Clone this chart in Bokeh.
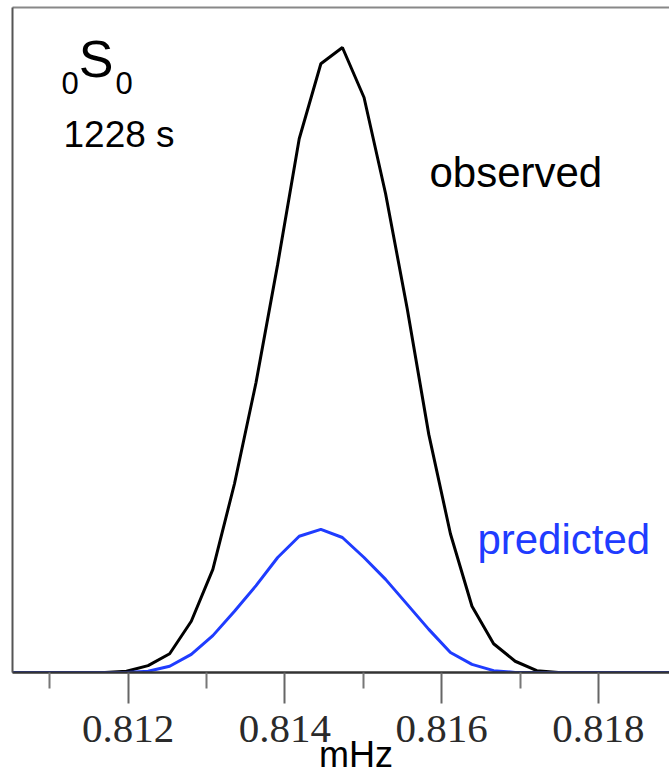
from bokeh.plotting import figure
from bokeh.models import Range1d, LinearAxis, FixedTicker, Label
from bokeh.embed import file_html
from bokeh.resources import INLINE

# Spectrum of the 0S0 radial mode (period 1228 s), frequency in mHz
freq = [0.8105, 0.811703, 0.811978, 0.812254, 0.812529, 0.812805, 0.813080,
        0.813356, 0.813631, 0.813907, 0.814182, 0.814458, 0.814733, 0.815009,
        0.815284, 0.815560, 0.815835, 0.816111, 0.816386, 0.816662, 0.816937,
        0.817213, 0.817488, 0.817764, 0.8190]

observed = [0.0, 0.0, 0.002, 0.011, 0.030, 0.082, 0.165, 0.302, 0.464, 0.653,
            0.854, 0.974, 1.000, 0.920, 0.766, 0.582, 0.381, 0.222, 0.106,
            0.046, 0.018, 0.003, 0.0, 0.0, 0.0]

predicted = [0.0, 0.0, 0.0, 0.002, 0.010, 0.029, 0.059, 0.098, 0.139, 0.184,
             0.218, 0.229, 0.216, 0.184, 0.149, 0.109, 0.069, 0.032, 0.013,
             0.003, 0.0, 0.0, 0.0, 0.0, 0.0]

major_ticks = [0.812, 0.814, 0.816, 0.818]
minor_ticks = [0.811, 0.813, 0.815, 0.817]
tick_labels = ["0.812", "0.814", "0.816", "0.818"]

BLUE = "#1f3cff"
FONT = "Liberation Sans"

p = figure(width=669, height=778, output_backend="svg", toolbar_location=None,
           x_range=Range1d(0.810524, 0.818906), y_range=Range1d(0, 1.064),
           x_axis_location=None, y_axis_location=None,
           min_border_left=12, min_border_right=0, min_border_top=7,
           min_border_bottom=106)
p.outline_line_color = None
p.grid.visible = False
p.background_fill_color = "white"
p.border_fill_color = "white"

# frequency axis
xaxis = LinearAxis(ticker=FixedTicker(ticks=major_ticks, minor_ticks=minor_ticks))
xaxis.major_label_overrides = dict(zip(major_ticks, tick_labels))
xaxis.major_tick_in = 0
xaxis.major_tick_out = 31
xaxis.minor_tick_in = 0
xaxis.minor_tick_out = 16
xaxis.major_tick_line_color = "#666666"
xaxis.major_tick_line_width = 2
xaxis.minor_tick_line_color = "#777777"
xaxis.minor_tick_line_width = 2
xaxis.axis_line_color = "#333333"
xaxis.axis_line_width = 2.5
xaxis.major_label_standoff = 12
xaxis.major_label_text_font = "Liberation Serif"
xaxis.major_label_text_font_size = "41px"
xaxis.major_label_text_color = "#2a2a2a"
# unit label sits slightly right of the frame centre
xaxis.axis_label = "\u00a0\u00a0\u00a0mHz"
xaxis.axis_label_text_font = FONT
xaxis.axis_label_text_font_style = "normal"
xaxis.axis_label_text_font_size = "36px"
xaxis.axis_label_text_color = "black"
xaxis.axis_label_standoff = -11
p.add_layout(xaxis, "below")

# plain frame edges on the left and top
for side, color in (("left", "#555555"), ("above", "#888888")):
    ax = LinearAxis(ticker=FixedTicker(ticks=[], minor_ticks=[]))
    ax.major_tick_in = 0
    ax.major_tick_out = 0
    ax.minor_tick_in = 0
    ax.minor_tick_out = 0
    ax.major_label_standoff = 0
    ax.major_label_text_font_size = "0px"
    ax.axis_line_color = color
    ax.axis_line_width = 2
    p.add_layout(ax, side)

p.line(freq, observed, line_color="black", line_width=3)
p.line(freq, predicted, line_color=BLUE, line_width=3)


def add_label(x, y, text, size, color="black"):
    p.add_layout(Label(x=x, y=y, text=text, text_font=FONT,
                       text_font_size=size, text_color=color,
                       text_baseline="alphabetic"))


add_label(0.811149, 0.944, "0", "31px")
add_label(0.811370, 0.982, "S", "52px")
add_label(0.811838, 0.944, "0", "31px")
add_label(0.811175, 0.861, "1228 s", "37px")
add_label(0.815843, 0.800, "observed", "42px")
add_label(0.816455, 0.213, "predicted", "42px", color=BLUE)

open("out.html", "w").write(file_html(p, INLINE))
